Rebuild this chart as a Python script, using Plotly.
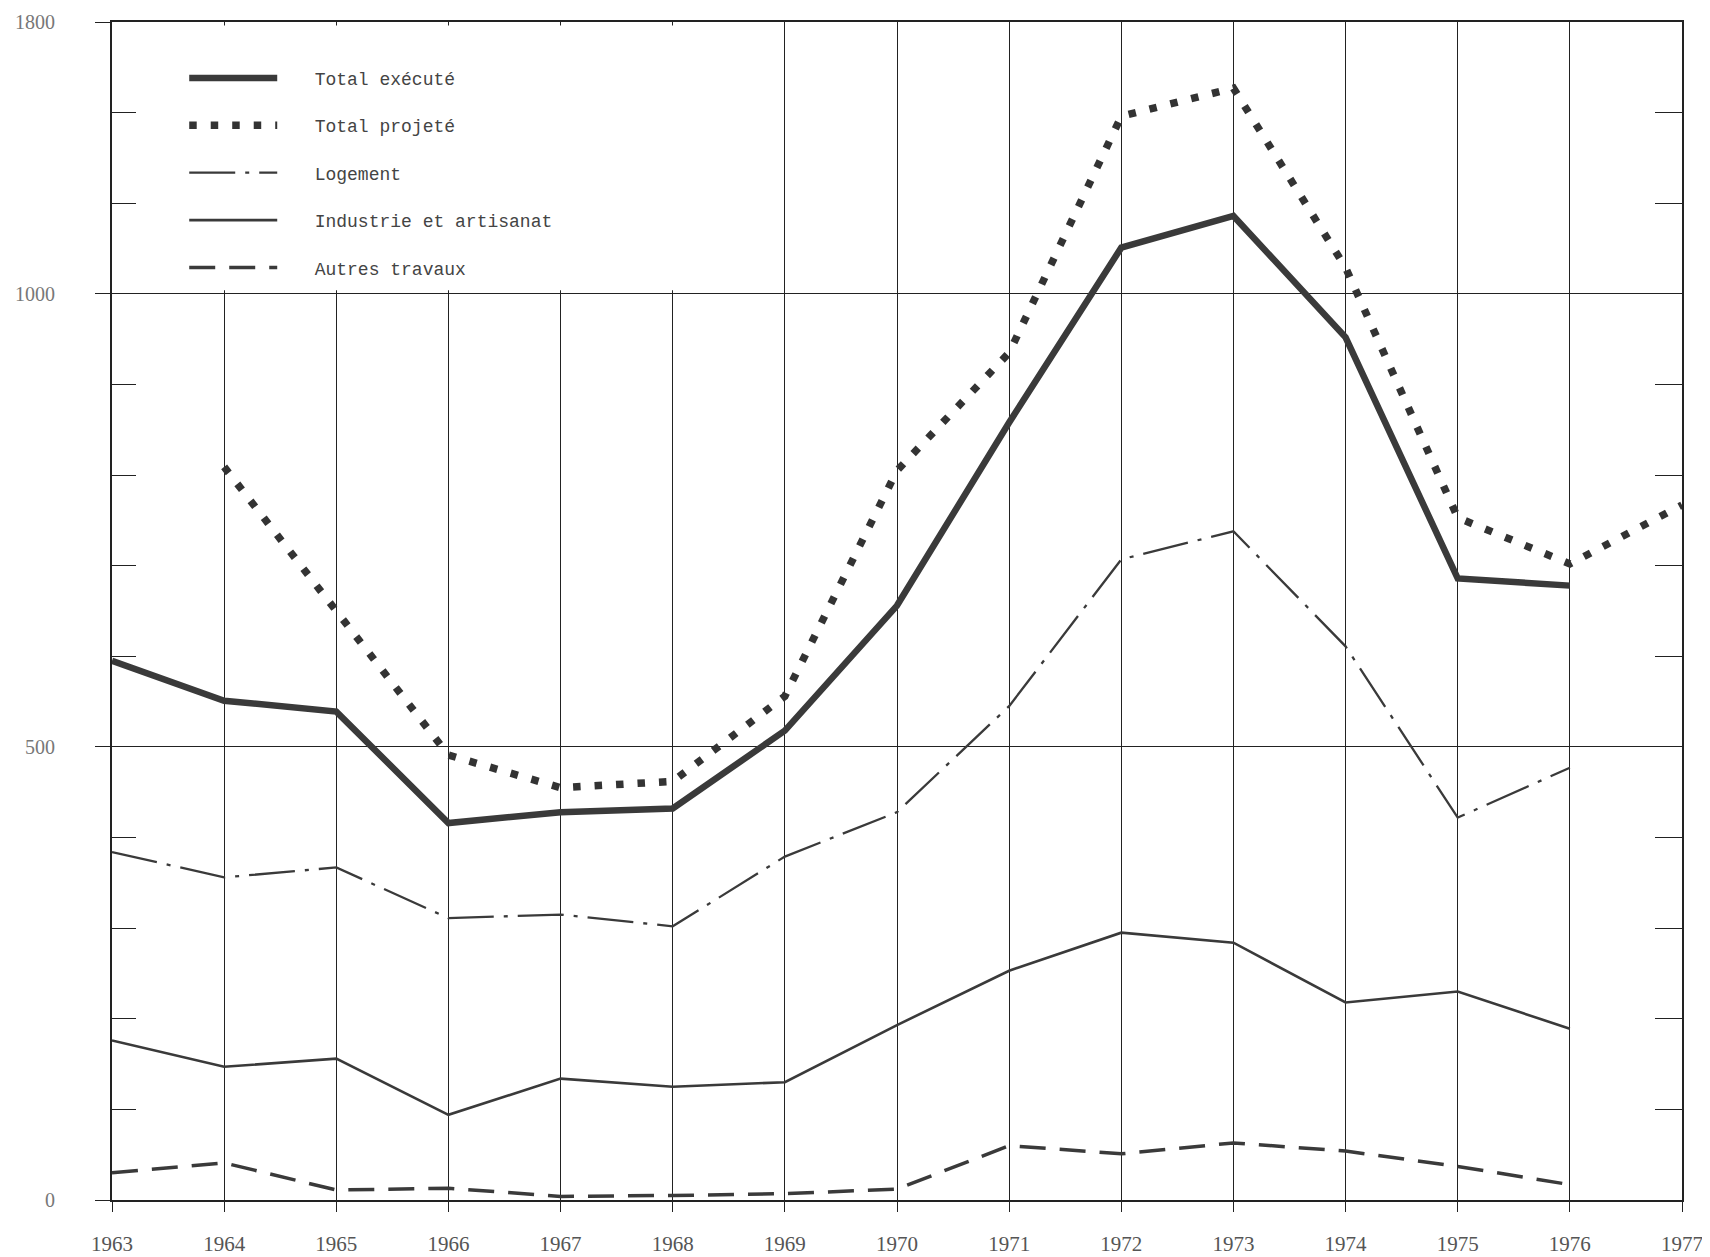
import plotly.graph_objects as go

years = [1963, 1964, 1965, 1966, 1967, 1968, 1969, 1970, 1971, 1972, 1973, 1974, 1975, 1976, 1977]

total_execute = [595, 551, 539, 416, 428, 432, 518, 656, 858, 1051, 1086, 952, 686, 678, None]
total_projete = [None, 809, 650, 491, 455, 462, 556, 805, 935, 1196, 1227, 1029, 753, 702, 767]
logement = [384, 356, 367, 311, 315, 302, 379, 428, 545, 707, 738, 611, 422, 477, None]
industrie = [176, 147, 156, 94, 134, 125, 130, 193, 253, 295, 284, 218, 230, 189, None]
autres = [30, 41, 11, 13, 4, 5, 7, 12, 60, 51, 63, 54, 37, 17, None]

names = ["Total exécuté", "Total projeté", "Logement", "Industrie et artisanat", "Autres travaux"]

y_major = [0, 500, 1000, 1300]
y_major_text = ["0", "500", "1000", "1800"]
y_minor = [100, 200, 300, 400, 600, 700, 800, 900, 1100, 1200]

LINE = "#3a3a3a"
GRID = "#222222"
PAD = "\u00a0\u00a0\u00a0"

fig = go.Figure()

series = [
    (total_execute, names[0], dict(color=LINE, width=6.5)),
    (total_projete, names[1], dict(color="#333333", width=7.5, dash="7.5px,14px")),
    (logement, names[2], dict(color=LINE, width=2.3, dash="46px,10px,4px,10px")),
    (industrie, names[3], dict(color=LINE, width=2.6)),
    (autres, names[4], dict(color=LINE, width=3.5, dash="26px,14px")),
]
for i, (vals, nm, ln) in enumerate(series):
    fig.add_trace(go.Scatter(
        x=years, y=vals, name=PAD + nm, mode="lines", line=ln,
        legendgroup="g%d" % i, connectgaps=False, hoverinfo="skip",
    ))

# helper trace for the right-hand tick axis
fig.add_trace(go.Scatter(x=[None], y=[None], yaxis="y2", showlegend=False, hoverinfo="skip"))

fig.update_layout(
    width=1710, height=1257,
    margin=dict(l=104, r=36, t=14, b=65),
    paper_bgcolor="white", plot_bgcolor="white",
    showlegend=True,
    legend=dict(
        x=0.046, y=0.968, xanchor="left", yanchor="top",
        bgcolor="rgba(0,0,0,0)", borderwidth=0,
        font=dict(family="Liberation Mono", size=18, color="#444444"),
        itemwidth=88, tracegroupgap=21,
    ),
    xaxis=dict(
        range=[1963, 1977], tickvals=years, ticktext=[str(y) for y in years],
        ticks="outside", ticklen=10, tickcolor=GRID, tickwidth=1.2,
        showgrid=True, gridcolor=GRID, gridwidth=1.2,
        showline=True, mirror=True, linecolor=GRID, linewidth=1.6,
        zeroline=False, automargin=False,
        tickfont=dict(family="Liberation Serif", size=21, color="#555555"),
        ticklabelstandoff=14,
    ),
    yaxis=dict(
        range=[0, 1300], tickvals=y_major, ticktext=y_major_text,
        ticks="outside", ticklen=15, tickcolor=GRID, tickwidth=1.2,
        showgrid=True, gridcolor=GRID, gridwidth=1.2,
        showline=True, mirror=True, linecolor=GRID, linewidth=2.2,
        zeroline=False, automargin=False,
        tickfont=dict(family="Liberation Serif", size=20, color="#777777"),
        ticklabelstandoff=36,
        minor=dict(tickvals=y_minor, ticks="inside", ticklen=24, tickcolor=GRID, tickwidth=1.2, showgrid=False),
    ),
    yaxis2=dict(
        overlaying="y", side="right", range=[0, 1300], automargin=False,
        tickvals=y_minor, ticks="inside", ticklen=27, tickcolor=GRID, tickwidth=1.2,
        showticklabels=False, showgrid=False, showline=False, zeroline=False,
    ),
    shapes=[dict(
        type="rect", xref="x", yref="y", x0=1963, x1=1968.5, y0=1004, y1=1296,
        fillcolor="white", line=dict(width=0), layer="between",
    )],
)

fig.write_html("out.html")
